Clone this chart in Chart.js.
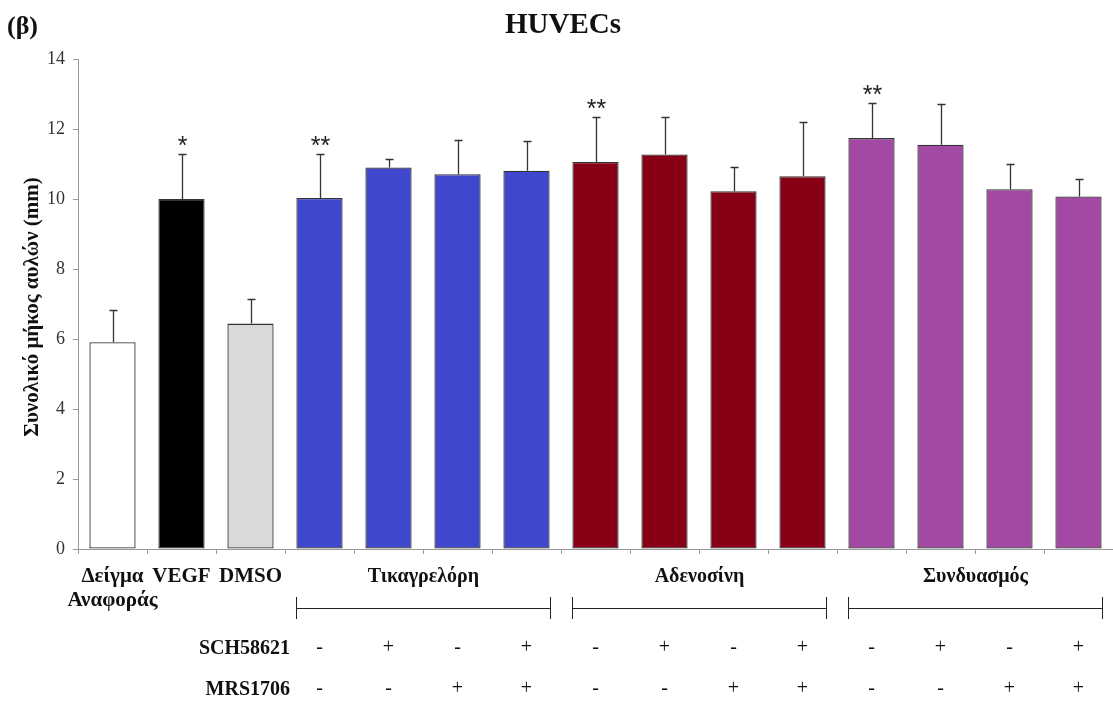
<!DOCTYPE html>
<html>
<head>
<meta charset="utf-8">
<script src="https://cdn.jsdelivr.net/npm/chart.js@4"></script>
<style>
  html, body { margin: 0; padding: 0; background: #fff; }
  #wrap { width: 1113px; height: 702px; position: relative; }
</style>
</head>
<body>
<div id="wrap"><canvas id="c" width="1113" height="702"></canvas></div>
<script>
// Control bars, then three treatment groups of four bars each
const controlLabels = [['Δείγμα', 'Αναφοράς'], ['VEGF'], ['DMSO']];
const groupNames = ['Τικαγρελόρη', 'Αδενοσίνη', 'Συνδυασμός'];
const categories = ['Δείγμα Αναφοράς', 'VEGF', 'DMSO',
  'Τικαγρελόρη 1', 'Τικαγρελόρη 2', 'Τικαγρελόρη 3', 'Τικαγρελόρη 4',
  'Αδενοσίνη 1', 'Αδενοσίνη 2', 'Αδενοσίνη 3', 'Αδενοσίνη 4',
  'Συνδυασμός 1', 'Συνδυασμός 2', 'Συνδυασμός 3', 'Συνδυασμός 4'];

// Total tubule length (mm), mean and SD
const means = [5.91, 10.0, 6.44, 10.03, 10.9, 10.71, 10.81, 11.06, 11.27, 10.22, 10.65, 11.74, 11.55, 10.28, 10.07];
const sds   = [0.91, 1.29, 0.71, 1.26, 0.25, 0.98, 0.85, 1.27, 1.06, 0.69, 1.56, 1.00, 1.17, 0.72, 0.50];
const significance = ['', '*', '', '**', '', '', '', '**', '', '', '', '**', '', '', ''];

// Antagonist presence per bar
const sch58621 = ['', '', '', '-', '+', '-', '+', '-', '+', '-', '+', '-', '+', '-', '+'];
const mrs1706  = ['', '', '', '-', '-', '+', '+', '-', '-', '+', '+', '-', '-', '+', '+'];

const yTicks = [0, 2, 4, 6, 8, 10, 12, 14];

const barColors = ['#ffffff', '#000000', '#d9d9d9',
  '#3f48cc', '#3f48cc', '#3f48cc', '#3f48cc',
  '#880015', '#880015', '#880015', '#880015',
  '#a349a4', '#a349a4', '#a349a4', '#a349a4'];

const SERIF = '"Liberation Serif", "Times New Roman", serif';

const annotations = {
  id: 'annotations',
  afterDatasetsDraw(chart) {
    const ctx = chart.ctx;
    const x = chart.scales.x, y = chart.scales.y;
    const bars = chart.getDatasetMeta(0).data;
    ctx.save();

    // error bars (upper only) and significance marks
    ctx.strokeStyle = '#333';
    ctx.lineWidth = 1.3;
    means.forEach((m, i) => {
      const cx = Math.round(x.getPixelForValue(i)) + 0.5;
      const yb = y.getPixelForValue(m);
      const yt = Math.round(y.getPixelForValue(m + sds[i])) + 0.5;
      ctx.beginPath();
      ctx.moveTo(cx, yb);
      ctx.lineTo(cx, yt);
      ctx.moveTo(cx - 4, yt);
      ctx.lineTo(cx + 4, yt);
      ctx.stroke();
      if (significance[i]) {
        ctx.fillStyle = '#222';
        ctx.font = '25px "Liberation Sans", Arial, sans-serif';
        ctx.textAlign = 'center';
        ctx.textBaseline = 'alphabetic';
        ctx.fillText(significance[i], cx, yt - 1);
      }
    });

    // control labels under the first three bars
    ctx.fillStyle = '#111';
    ctx.font = 'bold 21px ' + SERIF;
    ctx.textAlign = 'center';
    ctx.textBaseline = 'middle';
    controlLabels.forEach((lines, i) => {
      const cx = x.getPixelForValue(i);
      lines.forEach((t, k) => ctx.fillText(t, cx, 577 + k * 24));
    });

    // group names and brackets
    ctx.font = 'bold 20px ' + SERIF;
    ctx.strokeStyle = '#222';
    ctx.lineWidth = 1;
    groupNames.forEach((name, g) => {
      const first = bars[3 + g * 4], last = bars[6 + g * 4];
      const x0 = Math.round(first.x - first.width / 2) + 0.5;
      const x1 = Math.round(last.x + last.width / 2) + 0.5;
      ctx.fillText(name, (x0 + x1) / 2, 577);
      ctx.beginPath();
      ctx.moveTo(x0, 608.5); ctx.lineTo(x1, 608.5);
      ctx.moveTo(x0, 597); ctx.lineTo(x0, 619);
      ctx.moveTo(x1, 597); ctx.lineTo(x1, 619);
      ctx.stroke();
    });

    // antagonist rows
    ctx.textAlign = 'right';
    ctx.fillText('SCH58621', 290, 649);
    ctx.fillText('MRS1706', 290, 690);
    ctx.font = '20px ' + SERIF;
    ctx.textAlign = 'center';
    sch58621.forEach((s, i) => {
      if (!s) return;
      const cx = x.getPixelForValue(i);
      ctx.fillText(s, cx, 648);
      ctx.fillText(mrs1706[i], cx, 689);
    });

    // panel letter and title
    ctx.font = 'bold 26px ' + SERIF;
    ctx.textAlign = 'left';
    ctx.fillText('(β)', 7, 27);
    ctx.font = 'bold 29px ' + SERIF;
    ctx.textAlign = 'center';
    ctx.fillText('HUVECs', 563, 26);

    // y-axis title
    ctx.translate(33, 307);
    ctx.rotate(-Math.PI / 2);
    ctx.font = 'bold 21px ' + SERIF;
    ctx.fillText('Συνολικό μήκος αυλών (mm)', 0, 0);
    ctx.restore();
  }
};

new Chart(document.getElementById('c'), {
  type: 'bar',
  data: {
    labels: categories,
    datasets: [{
      data: means,
      backgroundColor: barColors,
      borderColor: '#333',
      borderWidth: 1.3,
      borderSkipped: false,
      categoryPercentage: 1.0,
      barPercentage: 0.67
    }]
  },
  options: {
    responsive: false,
    animation: false,
    layout: { padding: { top: 59, right: 0, left: 0, bottom: 0 } },
    plugins: { legend: { display: false }, tooltip: { enabled: false } },
    scales: {
      x: {
        grid: { display: true, drawOnChartArea: false, tickLength: 5, color: '#999', offset: true },
        border: { display: true, color: '#999', width: 1 },
        ticks: { display: false },
        afterFit(s) { s.height = 153; }
      },
      y: {
        min: 0, max: 14,
        afterBuildTicks(s) { s.ticks = yTicks.map(v => ({ value: v })); },
        grid: { display: true, drawOnChartArea: false, tickLength: 5, color: '#999' },
        border: { display: true, color: '#999', width: 1 },
        ticks: { padding: 8, color: '#333', font: { family: SERIF, size: 18 } },
        afterFit(s) { s.width = 78; }
      }
    }
  },
  plugins: [annotations]
});
</script>
</body>
</html>
